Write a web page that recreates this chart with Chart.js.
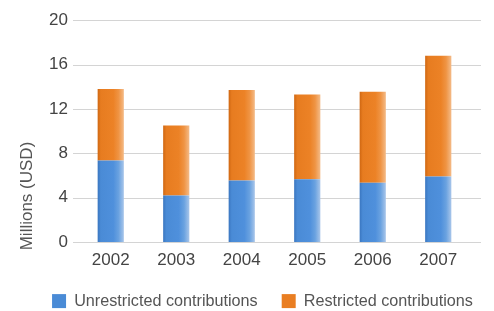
<!DOCTYPE html>
<html>
<head>
<meta charset="utf-8">
<script src="https://cdn.jsdelivr.net/npm/chart.js@4"></script>
<style>
html,body{margin:0;padding:0;background:#fff;}
#wrap{width:494px;height:311px;position:relative;}
</style>
</head>
<body>
<div id="wrap"><canvas id="c" width="494" height="311"></canvas></div>
<script>
const years = ["2002","2003","2004","2005","2006","2007"];
const unrestricted = [7.35, 4.2, 5.55, 5.65, 5.35, 5.9];
const restricted = [6.45, 6.3, 8.15, 7.65, 8.2, 10.9];
const yTicks = [0, 4, 8, 12, 16, 20];
const seriesNames = ["Unrestricted contributions", "Restricted contributions"];
const yTitle = "Millions (USD)";

const FONT = "'Liberation Sans', Arial, sans-serif";

function barGradient(ctx, stops) {
  const chart = ctx.chart;
  const xs = chart.scales.x;
  if (!xs || !chart.chartArea) return stops[1][1];
  const cx = xs.getPixelForValue(ctx.dataIndex);
  const w = (xs.width / years.length) * 0.4;
  const g = chart.ctx.createLinearGradient(cx - w / 2, 0, cx + w / 2, 0);
  stops.forEach(s => g.addColorStop(s[0], s[1]));
  return g;
}
const blueStops = [[0, "#3a76c0"], [0.12, "#4a8bd6"], [0.6, "#4f90dc"], [0.8, "#6aa2e0"], [1, "#a9c6ea"]];
const orangeStops = [[0, "#cf6712"], [0.12, "#e77c20"], [0.6, "#ec8226"], [0.8, "#ef9444"], [1, "#f4bb88"]];

const gridPlugin = {
  id: "extGrid",
  beforeDatasetsDraw(chart) {
    const ys = chart.scales.y;
    const c = chart.ctx;
    c.save();
    c.strokeStyle = "#d4d4d4";
    c.lineWidth = 1;
    yTicks.forEach(v => {
      const y = Math.round(ys.getPixelForValue(v)) + 0.5;
      c.beginPath();
      c.moveTo(chart.chartArea.left - 5, y);
      c.lineTo(chart.chartArea.right + 10, y);
      c.stroke();
    });
    c.restore();
  },
  afterDraw(chart) {
    const c = chart.ctx;
    c.save();
    c.fillStyle = "#555";
    c.font = "17px " + FONT;
    c.translate(27, 196);
    c.rotate(-Math.PI / 2);
    c.textAlign = "center";
    c.textBaseline = "middle";
    c.fillText(yTitle, 0, 0);
    c.restore();
  }
};

const legendShift = {
  id: "legendShift",
  afterLayout(chart) {
    const lg = chart.legend;
    if (lg) { lg.left += 27; lg.right += 27; lg.top += 2; lg.bottom += 2; }
  }
};

new Chart(document.getElementById("c"), {
  type: "bar",
  data: {
    labels: years,
    datasets: [
      { label: seriesNames[0], data: unrestricted, backgroundColor: ctx => barGradient(ctx, blueStops), borderWidth: 0 },
      { label: seriesNames[1], data: restricted, backgroundColor: ctx => barGradient(ctx, orangeStops), borderWidth: 0 }
    ]
  },
  options: {
    responsive: false,
    animation: false,
    devicePixelRatio: 1,
    layout: { padding: { top: 19, right: 23, left: 0, bottom: 0 } },
    datasets: { bar: { categoryPercentage: 1, barPercentage: 0.4 } },
    scales: {
      x: {
        stacked: true,
        grid: { display: false, drawTicks: false },
        border: { display: false },
        ticks: { color: "#444", font: { family: FONT, size: 17 }, padding: 8 },
        afterFit(s) { s.height = 25; }
      },
      y: {
        stacked: true,
        min: 0, max: 20,
        afterBuildTicks(s) { s.ticks = yTicks.map(v => ({ value: v })); },
        grid: { display: false, drawTicks: false },
        border: { display: false },
        ticks: { color: "#444", font: { family: FONT, size: 17 }, padding: 10 },
        afterFit(s) { s.width = 78; }
      }
    },
    plugins: {
      tooltip: { enabled: false },
      legend: {
        position: "bottom",
        maxHeight: 44,
        labels: {
          color: "#555",
          font: { family: FONT, size: 16.2 },
          boxWidth: 14, boxHeight: 14,
          padding: 24,
          generateLabels(chart) {
            return [
              { text: seriesNames[0], fillStyle: "#4a8bd6", strokeStyle: "#4a8bd6", lineWidth: 0, datasetIndex: 0, fontColor: "#555" },
              { text: seriesNames[1], fillStyle: "#e97e22", strokeStyle: "#e97e22", lineWidth: 0, datasetIndex: 1, fontColor: "#555" }
            ];
          }
        }
      }
    }
  },
  plugins: [gridPlugin, legendShift]
});
</script>
</body>
</html>
